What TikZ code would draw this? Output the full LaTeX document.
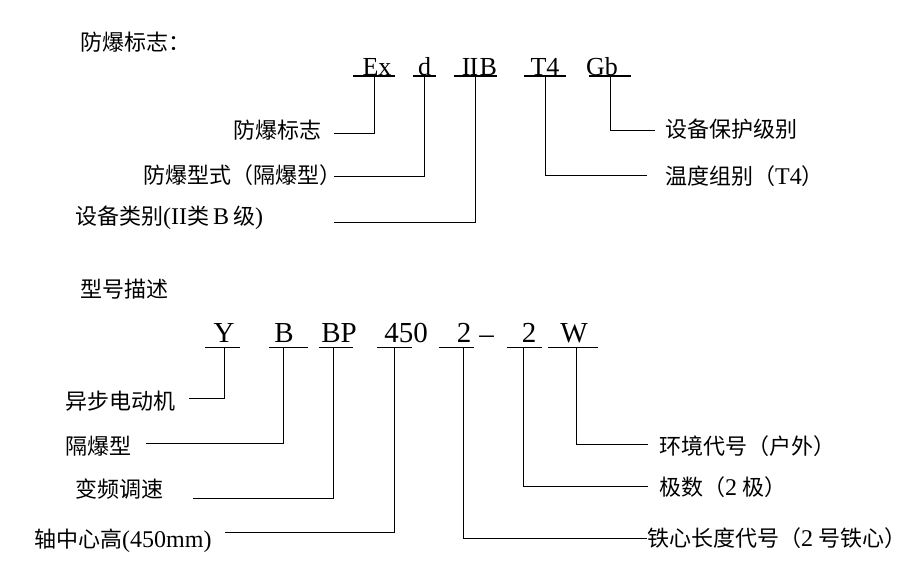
\documentclass[tikz,border=0pt]{standalone}
\usepackage{fontspec}
\setmainfont{Liberation Serif}
\newfontfamily\cjk{Noto Sans CJK SC}
\newcommand\latn[1]{{\rmfamily\fontsize{24}{24}\selectfont #1}}

\begin{document}
\begin{tikzpicture}[x=1pt,y=-1pt,
        codeE/.style={anchor=south,inner xsep=0pt,inner ysep=0.5pt,text depth=0pt,font=\fontsize{26}{26}\selectfont},
        codeM/.style={anchor=south,inner xsep=0pt,inner ysep=4pt,text depth=0pt,font=\fontsize{29}{29}\selectfont},
        zh/.style={anchor=west,inner sep=0pt,text height=17.6pt,text depth=1.8pt,font=\cjk\fontsize{22}{22}\selectfont}]
                \useasboundingbox (0,0) rectangle (917,573);

                \node[zh] (ET) at (80,43) {防爆标志：};
                \node[zh] (MT) at (80,290) {型号描述};

                \foreach \a/\x/\w/\s/\t in {1/374/42/6/Ex,2/424.5/22/0/d,3/475.5/43/8/{I\kern-1pt I\kern1.5pt B},4/545/42/0/T4,5/610/42/-16/Gb}
                {
                    \node[codeE,minimum width=\w pt] (E\a) at (\x,76) {\makebox[0pt]{\hspace*{\s pt}\t}};
                    \draw[line width=1.6pt] (E\a.south west) -- (E\a.south east);
                }

                \foreach \a/\x/\w/\s/\t in {1/222.5/35/3/Y,2/288.5/39/-9/B,3/336/34/6/BP,4/394.5/35/23/450,5/456.5/35/15/2,6/524.5/35/9/2,7/573/50/2/W}
                {
                    \node[codeM,minimum width=\w pt] (M\a) at (\x,347) {\makebox[0pt]{\hspace*{\s pt}\t}};
                    \draw[line width=0.9pt] (M\a.south west) -- (M\a.south east);
                }
                \node[anchor=base,inner sep=0pt,font=\fontsize{29}{29}\selectfont] (M5D) at (486.5,343) {–};

                \node[zh] (E1T) at (233,131) {防爆标志};
                \node[zh] (E2T) at (143,176) {防爆型式（隔爆型）};
                \node[zh] (E3T) at (75,217) {设备类别\latn{(II}类\latn{\,B\,}级\latn{)}};
                \node[zh] (E4T) at (665,177) {温度组别（\latn{T4}）};
                \node[zh] (E5T) at (665,130) {设备保护级别};

                \node[zh] (M1T) at (65,402) {异步电动机};
                \node[zh] (M2T) at (65,447) {隔爆型};
                \node[zh] (M3T) at (75,490) {变频调速};
                \node[zh] (M4T) at (34,540) {轴中心高\latn{(450mm)}};
                \node[zh] (M5T) at (647,539) {铁心长度代号（\latn{2} 号铁心）};
                \node[zh] (M6T) at (659,488) {极数（\latn{2} 极）};
                \node[zh] (M7T) at (659,447) {环境代号（户外）};

                \foreach \a/\x/\y in {1/334/133,2/334/176,3/334/222,4/647/175,5/655/130}
                {
                    \coordinate (E\a P) at (\x,\y);
                    \draw[line width=0.9pt] (E\a.south) |- (E\a P);
                }

                \foreach \a/\d/\x/\y in {1/1.5/189/398,2/-5.5/146/443,3/-3/193/498,4/0/225/532,5/6.5/647/538,6/-1.5/648/486,7/3/648/444}
                {
                    \coordinate (M\a P) at (\x,\y);
                    \draw[line width=0.9pt] ([xshift=\d pt]M\a.south) |- (M\a P);
                }
            \end{tikzpicture}
\end{document}
